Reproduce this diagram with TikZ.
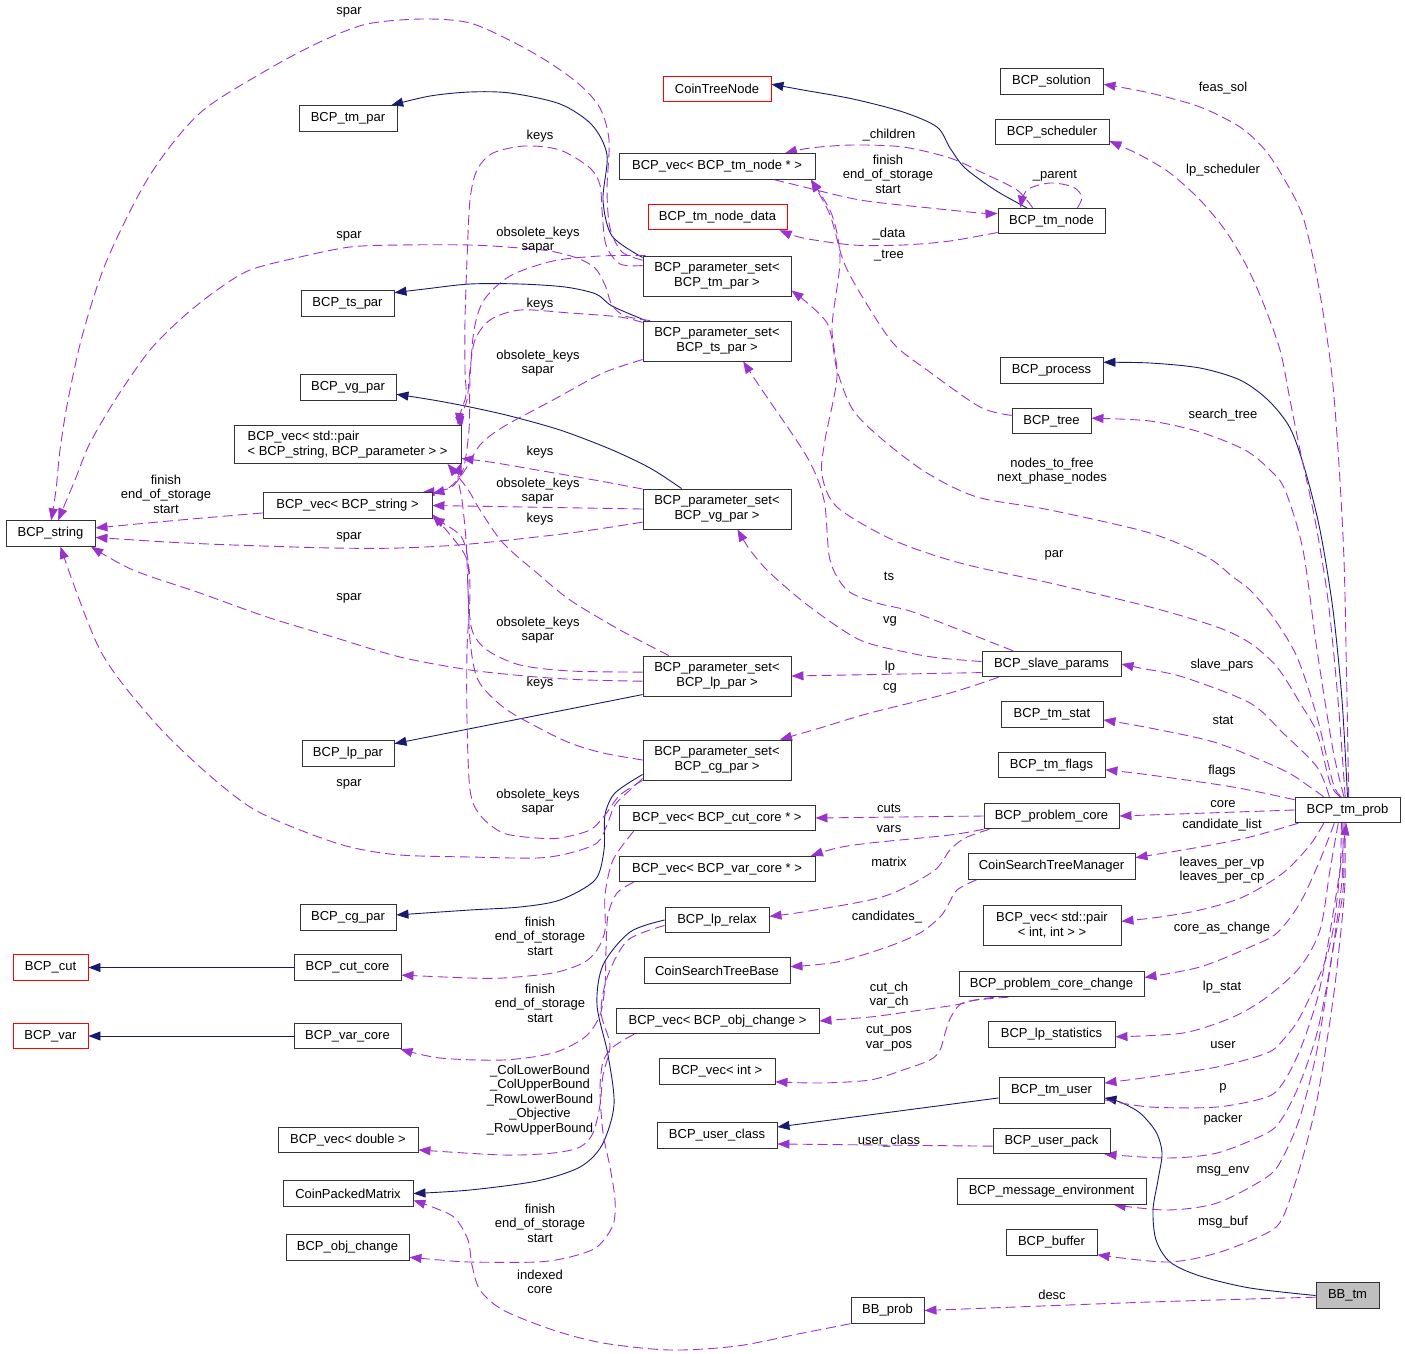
\documentclass[tikz,border=0pt]{standalone}
\usepackage{fontspec}
\setmainfont{Liberation Sans}
\usetikzlibrary{arrows.meta,backgrounds}
\definecolor{depc}{HTML}{9A32CD}
\definecolor{inhc}{HTML}{191970}
\begin{document}
\begin{tikzpicture}[x=1pt,y=-1pt,
  every node/.style={font=\fontsize{13}{14.5}\selectfont},
  box/.style={draw=black!80, line width=0.9pt, fill=white, inner sep=0pt, minimum height=25.5pt},
  boxtwo/.style={box, minimum height=40pt, align=center},
  redbox/.style={box, draw=red},
  lbl/.style={align=center, inner sep=0pt},
  dep/.style={draw=depc, line width=0.9pt, dash pattern=on 10pt off 5pt, -{Triangle[length=12pt,width=9pt]}},
  inh/.style={draw=inhc, line width=0.9pt, -{Triangle[length=12pt,width=9pt]}},
]
\useasboundingbox (0,0) rectangle (1405,1354);

% ---------- nodes: left column ----------
\node[box, minimum width=98pt] (tmpar) at (348,118.5) {BCP\_tm\_par};
\node[box, minimum width=93pt] (tspar) at (347.5,303.5) {BCP\_ts\_par};
\node[box, minimum width=96pt] (vgpar) at (348,387.5) {BCP\_vg\_par};
\node[box, minimum width=227pt, minimum height=38pt, align=left] (vecpair) at (347.5,444.5) {BCP\_vec< std::pair\\< BCP\_string, BCP\_parameter > >};
\node[box, minimum width=169pt] (vecstring) at (347.5,505.5) {BCP\_vec< BCP\_string >};
\node[box, minimum width=89pt] (string) at (50.5,533.5) {BCP\_string};
\node[box, minimum width=92pt] (lppar) at (348,753.5) {BCP\_lp\_par};
\node[box, minimum width=96pt] (cgpar) at (348,917.5) {BCP\_cg\_par};
\node[redbox, minimum width=75pt] (cut) at (50.5,967.5) {BCP\_cut};
\node[box, minimum width=107pt] (cutcore) at (347.5,967.5) {BCP\_cut\_core};
\node[redbox, minimum width=75pt] (var) at (50.5,1036) {BCP\_var};
\node[box, minimum width=107pt] (varcore) at (347.5,1036) {BCP\_var\_core};
\node[box, minimum width=140pt] (vecdouble) at (348,1140) {BCP\_vec< double >};
\node[box, minimum width=130pt] (cpm) at (348,1193.5) {CoinPackedMatrix};
\node[box, minimum width=123pt] (objchange) at (347.5,1247.5) {BCP\_obj\_change};

% ---------- nodes: middle column ----------
\node[redbox, minimum width=108pt] (ctn) at (717,89) {CoinTreeNode};
\node[box, minimum width=196pt] (vectmnode) at (717,166.5) {BCP\_vec< BCP\_tm\_node * >};
\node[redbox, minimum width=139pt] (tmnodedata) at (717.5,217) {BCP\_tm\_node\_data};
\node[boxtwo, minimum width=148pt] (pstm) at (717,276) {BCP\_parameter\_set<\\BCP\_tm\_par >};
\node[boxtwo, minimum width=148pt] (psts) at (717,341) {BCP\_parameter\_set<\\BCP\_ts\_par >};
\node[boxtwo, minimum width=148pt] (psvg) at (717,509) {BCP\_parameter\_set<\\BCP\_vg\_par >};
\node[boxtwo, minimum width=148pt] (pslp) at (717,676) {BCP\_parameter\_set<\\BCP\_lp\_par >};
\node[boxtwo, minimum width=148pt] (pscg) at (717,760) {BCP\_parameter\_set<\\BCP\_cg\_par >};
\node[box, minimum width=196pt] (veccut) at (717,818) {BCP\_vec< BCP\_cut\_core * >};
\node[box, minimum width=196pt] (vecvar) at (717,869) {BCP\_vec< BCP\_var\_core * >};
\node[box, minimum width=104pt] (lprelax) at (717,920) {BCP\_lp\_relax};
\node[box, minimum width=146pt] (cstb) at (717,970.5) {CoinSearchTreeBase};
\node[box, minimum width=203pt] (vecobj) at (717.5,1021) {BCP\_vec< BCP\_obj\_change >};
\node[box, minimum width=116pt] (vecint) at (717,1071.5) {BCP\_vec< int >};
\node[box, minimum width=120pt] (userclass) at (717,1135.5) {BCP\_user\_class};
\node[box, minimum width=73pt] (bbprob) at (887.5,1310.5) {BB\_prob};

% ---------- nodes: right column ----------
\node[box, minimum width=103pt] (solution) at (1051.5,81.5) {BCP\_solution};
\node[box, minimum width=114pt] (scheduler) at (1052,132) {BCP\_scheduler};
\node[box, minimum width=107pt] (tmnode) at (1051.5,221) {BCP\_tm\_node};
\node[box, minimum width=103pt] (process) at (1051.5,370.5) {BCP\_process};
\node[box, minimum width=79pt] (tree) at (1051.5,421) {BCP\_tree};
\node[box, minimum width=139pt] (slave) at (1051.5,664) {BCP\_slave\_params};
\node[box, minimum width=102pt] (tmstat) at (1052,714.5) {BCP\_tm\_stat};
\node[box, minimum width=107pt] (tmflags) at (1051.5,765) {BCP\_tm\_flags};
\node[box, minimum width=135pt] (pcore) at (1051.5,816) {BCP\_problem\_core};
\node[box, minimum width=167pt] (cstm) at (1051.5,866.5) {CoinSearchTreeManager};
\node[boxtwo, minimum width=138pt] (vecpairint) at (1052,925) {BCP\_vec< std::pair\\< int, int > >};
\node[box, minimum width=185pt] (pcc) at (1051.5,984) {BCP\_problem\_core\_change};
\node[box, minimum width=127pt] (lpstat) at (1051.5,1034.5) {BCP\_lp\_statistics};
\node[box, minimum width=105pt] (tmuser) at (1051.5,1090.5) {BCP\_tm\_user};
\node[box, minimum width=117pt] (userpack) at (1051.5,1141) {BCP\_user\_pack};
\node[box, minimum width=189pt] (msgenv) at (1051.5,1191.5) {BCP\_message\_environment};
\node[box, minimum width=91pt] (buffer) at (1051.5,1242.5) {BCP\_buffer};
\node[box, minimum width=105pt] (tmprob) at (1347.5,810) {BCP\_tm\_prob};
\node[box, minimum width=63pt, fill=black!25] (bbtm) at (1347.5,1295.5) {BB\_tm};

% ---------- edge labels ----------
\node[lbl] (l01) at (349,12) {spar};
\node[lbl] (l02) at (349,236) {spar};
\node[lbl] (l03) at (540,136) {keys};
\node[lbl] (l04) at (538,240) {obsolete\_keys\\sapar};
\node[lbl] (l05) at (540,304) {keys};
\node[lbl] (l06) at (538,363) {obsolete\_keys\\sapar};
\node[lbl] (l07) at (166,494) {finish\\end\_of\_storage\\start};
\node[lbl] (l08) at (540,452) {keys};
\node[lbl] (l09) at (538,491) {obsolete\_keys\\sapar};
\node[lbl] (l10) at (540,519) {keys};
\node[lbl] (l11) at (349,537) {spar};
\node[lbl] (l12) at (349,598) {spar};
\node[lbl] (l13) at (538,630) {obsolete\_keys\\sapar};
\node[lbl] (l14) at (540,683) {keys};
\node[lbl] (l15) at (349,784) {spar};
\node[lbl] (l16) at (538,802) {obsolete\_keys\\sapar};
\node[lbl] (l17) at (889,135) {\_children};
\node[lbl] (l18) at (888,174) {finish\\end\_of\_storage\\start};
\node[lbl] (l19) at (1055,176) {\_parent};
\node[lbl] (l20) at (889,234) {\_data};
\node[lbl] (l21) at (889,256) {\_tree};
\node[lbl] (l22) at (1223,88) {feas\_sol};
\node[lbl] (l23) at (1223,170) {lp\_scheduler};
\node[lbl] (l24) at (1223,415) {search\_tree};
\node[lbl] (l25) at (1052,471) {nodes\_to\_free\\next\_phase\_nodes};
\node[lbl] (l26) at (1054,555) {par};
\node[lbl] (l27) at (889,576) {ts};
\node[lbl] (l28) at (890,621) {vg};
\node[lbl] (l29) at (890,667) {lp};
\node[lbl] (l30) at (890,688) {cg};
\node[lbl] (l31) at (1222,665) {slave\_pars};
\node[lbl] (l32) at (1223,720) {stat};
\node[lbl] (l33) at (1222,771) {flags};
\node[lbl] (l34) at (1223,804) {core};
\node[lbl] (l35) at (1222,825) {candidate\_list};
\node[lbl] (l36) at (1222,870) {leaves\_per\_vp\\leaves\_per\_cp};
\node[lbl] (l37) at (889,808) {cuts};
\node[lbl] (l38) at (889,829) {vars};
\node[lbl] (l39) at (889,862) {matrix};
\node[lbl] (l40) at (887,917) {candidates\_};
\node[lbl] (l41) at (1222,928) {core\_as\_change};
\node[lbl] (l42) at (889,995) {cut\_ch\\var\_ch};
\node[lbl] (l43) at (889,1038) {cut\_pos\\var\_pos};
\node[lbl] (l44) at (1222,987) {lp\_stat};
\node[lbl] (l45) at (1223,1045) {user};
\node[lbl] (l46) at (1223,1088) {p};
\node[lbl] (l47) at (1223,1119) {packer};
\node[lbl] (l48) at (1223,1171) {msg\_env};
\node[lbl] (l49) at (1223,1222) {msg\_buf};
\node[lbl] (l50) at (889,1141) {user\_class};
\node[lbl] (l51) at (1052,1295) {desc};
\node[lbl] (l52) at (540,936) {finish\\end\_of\_storage\\start};
\node[lbl] (l53) at (540,1003) {finish\\end\_of\_storage\\start};
\node[lbl] (l54) at (540,1100) {\_ColLowerBound\\\_ColUpperBound\\\_RowLowerBound\\\_Objective\\\_RowUpperBound};
\node[lbl] (l55) at (540,1223) {finish\\end\_of\_storage\\start};
\node[lbl] (l56) at (540,1282) {indexed\\core};

\begin{pgfonlayer}{background}
% ---------- inheritance ----------
\draw[inh] plot[smooth] coordinates {(pstm.166) (612,236) (603,200) (607,155) (592,125) (560,104) (510,93) (470,92) (430,96) (tmpar.17)};
\draw[inh] plot[smooth] coordinates {(psts.164) (612,306) (596,294) (565,287) (520,284) (470,284) (425,289) (tspar.13)};
\draw[inh] plot[smooth] coordinates {(psvg.150) (650,468) (610,449) (560,430) (510,416) (470,407) (433,400) (vgpar.-8)};
\draw[inh] (pslp.194) -- (lppar.12);
\draw[inh] plot[smooth] coordinates {(pscg.191) (615,793) (605,815) (604,850) (595,880) (560,900) (520,907) (470,910) (cgpar.3)};
\draw[inh] plot[smooth] coordinates {(lprelax.west) (630,932) (603,965) (597,1005) (608,1055) (614,1105) (602,1145) (580,1167) (537,1181) (470,1190) (cpm.east)};
\draw[inh] (cutcore) -- (cut);
\draw[inh] (varcore) -- (var);
\draw[inh] (tmuser.188) -- (userclass.8);
\draw[inh] plot[smooth] coordinates {(bbtm.west) (1250,1288) (1200,1276) (1170,1262) (1156,1240) (1153,1210) (1158,1180) (1162,1153) (1156,1132) (1140,1113) (1120,1102) (tmuser.-8)};
\draw[inh] plot[smooth] coordinates {(tmprob.north) (1342,700) (1333,610) (1320,530) (1305,470) (1290,428) (1268,400) (1240,380) (1200,368) (1150,363) (process.9)};
\draw[inh] plot[smooth] coordinates {(tmnode.152) (995,190) (965,168) (950,148) (937,127) (903,112) (853,99) (803,90) (ctn.5)};

% ---------- BCP_tm_prob members ----------
\draw[dep] plot[smooth] coordinates {(tmprob.85) (1347,700) (1344,560) (1338,450) (1331,367) (1318,283) (1303,217) (1283,177) (1265,150) (1240,127) (1200,107) (1150,93) (solution.-3)};
\draw[dep] plot[smooth] coordinates {(tmprob.100) (1338,700) (1328,600) (1315,520) (1300,450) (1290,400) (1280,350) (1262,300) (1245,263) (1225,230) (1200,200) (1170,173) (1140,155) (scheduler.-9)};
\draw[dep] plot[smooth] coordinates {(tmprob.105) (1333,750) (1317,650) (1303,550) (1285,490) (1270,470) (1245,450) (1200,432) (1150,421) (tree.4)};
\draw[dep] plot[smooth] coordinates {(tmprob.115) (1333,783) (1317,717) (1297,657) (1273,617) (1250,590) (1233,577) (1207,557) (1150,533) (1050,510) (977,497) (927,473) (883,440) (853,410) (837,370) (827,323) (pstm.-11)};
\draw[dep] plot[smooth] coordinates {(tmprob.120) (1330,783) (1317,733) (1300,703) (1277,667) (1250,643) (1217,627) (1150,607) (1050,583) (960,563) (893,540) (837,507) (822,475) (825,440) (837,377) (832,327) (840,260) (832,215) (vectmnode.-8)};
\draw[dep] plot[smooth] coordinates {(tmprob.144) (1317,767) (1283,733) (1250,703) (1183,677) (1140,668) (slave.east)};
\draw[dep] plot[smooth] coordinates {(tmprob.151) (1310,787) (1283,770) (1217,743) (1150,728) (tmstat.-6)};
\draw[dep] plot[smooth] coordinates {(tmprob.169) (1233,787) (1150,775) (tmflags.-5)};
\draw[dep] (tmprob.west) -- (pcore.east);
\draw[dep] plot[smooth] coordinates {(tmprob.195) (1250,837) (1200,847) (cstm.6)};
\draw[dep] plot[smooth] coordinates {(tmprob.209) (1310,845) (1283,873) (1243,897) (1200,910) (1160,917) (vecpairint.3)};
\draw[dep] plot[smooth] coordinates {(tmprob.225) (1320,860) (1300,903) (1277,933) (1250,947) (1200,967) (pcc.4)};
\draw[dep] plot[smooth] coordinates {(tmprob.235) (1330,870) (1320,930) (1300,967) (1267,997) (1233,1017) (1183,1033) (lpstat.-2)};
\draw[dep] plot[smooth] coordinates {(tmprob.245) (1340,870) (1333,930) (1323,967) (1300,1017) (1283,1040) (1267,1053) (1217,1067) (1150,1077) (tmuser.8)};
\draw[dep] plot[smooth] coordinates {(tmuser.-10) (1150,1107) (1217,1107) (1267,1097) (1283,1083) (1300,1050) (1317,1000) (1327,950) (1340,870) (tmprob.265)};
\draw[dep] plot[smooth] coordinates {(tmprob.250) (1342,880) (1330,967) (1317,1033) (1300,1083) (1283,1117) (1267,1133) (1217,1153) (1167,1158) (userpack.-14)};
\draw[dep] plot[smooth] coordinates {(tmprob.255) (1343,890) (1333,950) (1317,1050) (1300,1117) (1283,1157) (1267,1177) (1217,1203) (1167,1210) (msgenv.-12)};
\draw[dep] plot[smooth] coordinates {(tmprob.260) (1345,880) (1342,920) (1333,1000) (1317,1100) (1300,1167) (1283,1217) (1267,1233) (1217,1253) (1167,1262) (buffer.-15)};
\draw[dep] plot[smooth] coordinates {(bbtm.183) (1150,1302) (bbprob.east)};
\draw[dep] plot[smooth] coordinates {(bbprob.south west) (803,1333) (737,1346) (670,1350) (603,1343) (553,1330) (503,1310) (480,1290) (472,1265) (468,1240) (455,1218) (435,1208) (cpm.-6)};

% ---------- tree / node ----------
\draw[dep] plot[smooth] coordinates {(tree.172) (980,407) (927,370) (893,343) (860,293) (843,260) (830,215) (vectmnode.-8)};
\draw[dep] plot[smooth] coordinates {(vectmnode.-13) (800,186) (860,200) (930,208) (980,213) (tmnode.172)};
\draw[dep] plot[smooth] coordinates {(tmnode.145) (1017,190) (983,173) (950,158) (903,147) (853,145) (810,148) (vectmnode.11)};
\draw[dep] plot[smooth] coordinates {(tmnode.27) (1082,197) (1073,187) (1050,183) (1027,190) (tmnode.157)};
\draw[dep] plot[smooth] coordinates {(tmnode.192) (950,241) (903,245) (853,245) (803,238) (tmnodedata.-12)};

% ---------- slave params ----------
\draw[dep] plot[smooth] coordinates {(slave.161) (960,630) (910,611) (877,603) (847,590) (830,560) (824,500) (807,457) (760,387) (psts.-38)};
\draw[dep] plot[smooth] coordinates {(slave.178) (940,658) (910,653) (860,640) (810,607) (770,573) (750,550) (psvg.-45)};
\draw[dep] (slave.187) -- (pslp.east);
\draw[dep] plot[smooth] coordinates {(slave.194) (950,693) (870,713) (820,728) (pscg.18)};

% ---------- problem core etc ----------
\draw[dep] (pcore.west) -- (veccut.east);
\draw[dep] plot[smooth] coordinates {(pcore.south west) (950,835) (870,843) (837,848) (vecvar.8)};
\draw[dep] plot[smooth] coordinates {(pcore.192) (965,838) (950,850) (935,870) (900,890) (870,900) (803,912) (lprelax.4)};
\draw[dep] plot[smooth] coordinates {(cstm.190) (957,890) (948,905) (940,917) (920,933) (887,947) (837,962) (cstb.3)};
\draw[dep] plot[smooth] coordinates {(pcc.193) (975,1000) (955,1005) (900,1013) (870,1017) (vecobj.east)};
\draw[dep] plot[smooth] coordinates {(pcc.197) (965,1002) (952,1015) (946,1030) (940,1050) (930,1060) (903,1070) (870,1080) (820,1083) (vecint.-10)};
\draw[dep] (userpack.185) -- (userclass.-8);

% ---------- vectors to contents ----------
\draw[dep] plot[smooth] coordinates {(veccut.189) (613,860) (605,895) (605,930) (597,950) (583,963) (553,973) (503,978) (470,978) (cutcore.-8)};
\draw[dep] plot[smooth] coordinates {(vecvar.189) (617,893) (608,915) (606,950) (605,985) (600,1015) (585,1037) (553,1053) (503,1060) (440,1058) (varcore.-14)};
\draw[dep] plot[smooth] coordinates {(lprelax.186) (628,940) (608,975) (601,1012) (610,1045) (603,1075) (600,1105) (593,1133) (580,1147) (553,1153) (503,1155) (vecdouble.-8)};
\draw[dep] plot[smooth] coordinates {(vecobj.189) (613,1047) (603,1062) (600,1090) (603,1133) (610,1167) (615,1200) (613,1225) (597,1247) (570,1257) (537,1262) (470,1262) (440,1260) (objchange.-9)};
\draw[dep] plot[smooth] coordinates {(vecstring.185) (180,520) (string.7)};

% ---------- parameter sets ----------
\draw[dep] plot[smooth] coordinates {(pstm.168) (622,252) (610,228) (607,190) (609,140) (600,108) (580,85) (550,63) (515,43) (470,23) (423,19) (367,24) (320,42) (267,70) (200,113) (150,175) (107,260) (83,333) (68,400) (60,450) (56,490) (string.87)};
\draw[dep] plot[smooth] coordinates {(pstm.172) (620,264) (606,245) (602,210) (600,185) (590,168) (560,150) (525,146) (493,153) (477,170) (470,200) (467,260) (465,320) (465,370) (466,395) (460,414) (vecpair.10)};
\draw[dep] plot[smooth] coordinates {(pstm.164) (600,256) (553,261) (510,276) (484,300) (474,330) (470,380) (469,430) (463,470) (450,487) (vecstring.8)};
\draw[dep] plot[smooth] coordinates {(psts.163) (625,316) (612,305) (605,285) (595,268) (577,258) (550,251) (520,248) (470,245) (400,245) (350,247) (300,257) (250,270) (217,290) (183,317) (150,350) (117,397) (90,443) (75,480) (string.60)};
\draw[dep] plot[smooth] coordinates {(psts.166) (620,317) (570,313) (520,310) (490,320) (475,340) (470,370) (467,400) (461,416) (vecpair.8)};
\draw[dep] plot[smooth] coordinates {(psts.194) (603,373) (553,400) (503,427) (480,445) (465,470) (450,488) (vecstring.10)};
\draw[dep] plot[smooth] coordinates {(psvg.165) (600,481) (537,470) (490,462) (vecpair.-7)};
\draw[dep] (psvg.west) -- (vecstring.east);
\draw[dep] plot[smooth] coordinates {(psvg.190) (570,533) (470,544) (400,548) (333,548) (233,545) (167,542) (string.-5)};
\draw[dep] plot[smooth] coordinates {(pslp.184) (587,680) (537,677) (470,670) (400,657) (333,637) (267,617) (200,593) (133,570) (string.-18)};
\draw[dep] plot[smooth] coordinates {(pslp.177) (570,671) (520,665) (487,650) (472,630) (468,590) (468,560) (460,535) (vecstring.-8)};
\draw[dep] plot[smooth] coordinates {(pslp.157) (620,630) (570,600) (537,573) (503,543) (480,510) (467,488) (vecpair.-11)};
\draw[dep] plot[smooth] coordinates {(pscg.west) (603,753) (570,743) (537,727) (503,707) (478,680) (470,640) (468,590) (466,540) (462,500) (458,478) (vecpair.-9)};
\draw[dep] plot[smooth] coordinates {(pscg.south west) (620,795) (605,815) (590,830) (560,838) (537,838) (503,833) (480,815) (470,790) (467,720) (467,650) (470,590) (465,555) (vecstring.-6)};
\draw[dep] plot[smooth] coordinates {(pscg.194) (630,790) (615,805) (607,825) (597,843) (570,853) (537,858) (470,857) (400,855) (350,847) (300,830) (250,807) (200,767) (150,717) (100,650) (string.-53)};
\end{pgfonlayer}
\end{tikzpicture}
\end{document}
